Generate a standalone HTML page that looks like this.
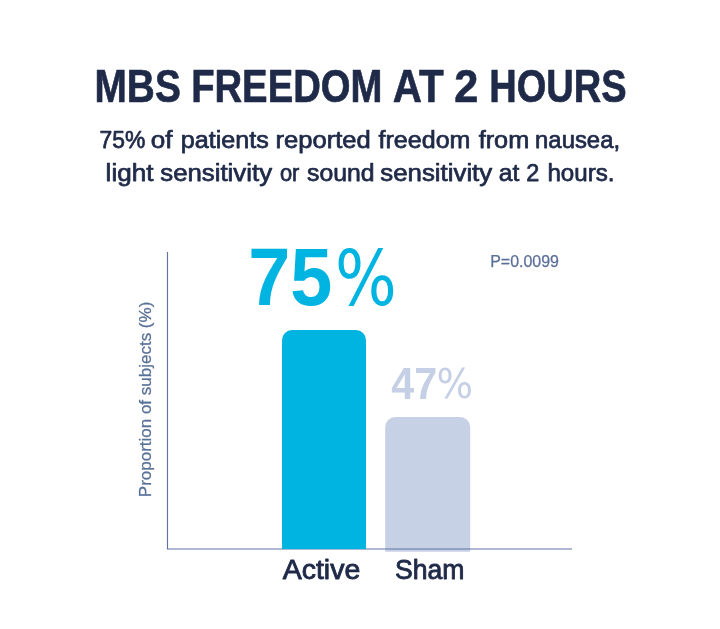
<!DOCTYPE html>
<html lang="en">
<head>
<meta charset="utf-8">
<title>MBS Freedom at 2 Hours</title>
<style>
  html, body { margin: 0; padding: 0; background: #ffffff; }
  body { width: 720px; height: 629px; overflow: hidden; font-family: "Liberation Sans", sans-serif; }
  main, figure { display: block; margin: 0; padding: 0; width: 720px; height: 629px; }
  svg { display: block; }
  text { font-family: "Liberation Sans", sans-serif; }
  .pct { font-family: "DejaVu Sans", "Liberation Sans", sans-serif; }
</style>
</head>
<body>
<main>
<figure>
<svg width="720" height="629" viewBox="0 0 720 629" role="img" aria-label="MBS freedom at 2 hours bar chart">
  <rect width="720" height="629" fill="#ffffff"/>

  <!-- y axis label -->
  <text fill="#587098" stroke="#587098" stroke-width="0.25" transform="translate(151 497.2) rotate(-90)" font-size="16.5" textLength="195.5" lengthAdjust="spacingAndGlyphs">Proportion of subjects (%)</text>

  <!-- sham bar (translucent, sits under the axis) -->
  <path fill="#9fb0d3" fill-opacity="0.58" d="M385.2 551.8 V427 a10 10 0 0 1 10 -10 H460.2 a10 10 0 0 1 10 10 V551.8 Z"/>

  <!-- axes -->
  <path d="M167.5 252 V549 H572" fill="none" stroke="#5f74a4" stroke-width="1.15"/>

  <!-- active bar -->
  <path fill="#00b4e2" d="M282 549 V340 a10 10 0 0 1 10 -10 H356 a10 10 0 0 1 10 10 V549 Z"/>
  <!-- heading -->
  <text y="101.7" font-size="46.2" font-weight="700" fill="#1f2a48" stroke="#1f2a48" stroke-width="0.7" stroke-linejoin="round"><tspan x="94.56" textLength="86.22" lengthAdjust="spacingAndGlyphs">MBS</tspan> <tspan x="191.15" textLength="191.22" lengthAdjust="spacingAndGlyphs">FREEDOM</tspan> <tspan x="392.77" textLength="50.88" lengthAdjust="spacingAndGlyphs">AT</tspan> <tspan x="454.22" textLength="24.06" lengthAdjust="spacingAndGlyphs">2</tspan> <tspan x="489.23" textLength="137.28" lengthAdjust="spacingAndGlyphs">HOURS</tspan></text>

  <!-- subtitle line 1 -->
  <text y="148.3" font-size="24.7" font-weight="400" fill="#1f2a48" stroke="#1f2a48" stroke-width="0.75" stroke-linejoin="round"><tspan x="99.45" textLength="45.81" lengthAdjust="spacingAndGlyphs">75%</tspan> <tspan x="150.89" textLength="21.73" lengthAdjust="spacingAndGlyphs">of</tspan> <tspan x="180.82" textLength="88.07" lengthAdjust="spacingAndGlyphs">patients</tspan> <tspan x="275.41" textLength="95.32" lengthAdjust="spacingAndGlyphs">reported</tspan> <tspan x="378.59" textLength="91.83" lengthAdjust="spacingAndGlyphs">freedom</tspan> <tspan x="478.67" textLength="50.60" lengthAdjust="spacingAndGlyphs">from</tspan> <tspan x="535.10" textLength="84.98" lengthAdjust="spacingAndGlyphs">nausea,</tspan></text>

  <!-- subtitle line 2 -->
  <text y="180.6" font-size="24.7" font-weight="400" fill="#1f2a48" stroke="#1f2a48" stroke-width="0.75" stroke-linejoin="round"><tspan x="105.61" textLength="47.85" lengthAdjust="spacingAndGlyphs">light</tspan> <tspan x="160.28" textLength="111.76" lengthAdjust="spacingAndGlyphs">sensitivity</tspan> <tspan x="279.93" textLength="19.47" lengthAdjust="spacingAndGlyphs">or</tspan> <tspan x="307.08" textLength="67.55" lengthAdjust="spacingAndGlyphs">sound</tspan> <tspan x="380.28" textLength="111.95" lengthAdjust="spacingAndGlyphs">sensitivity</tspan> <tspan x="498.85" textLength="20.50" lengthAdjust="spacingAndGlyphs">at</tspan> <tspan x="526.14" textLength="13.06" lengthAdjust="spacingAndGlyphs">2</tspan> <tspan x="547.38" textLength="67.15" lengthAdjust="spacingAndGlyphs">hours.</tspan></text>

  <!-- bar values -->
  <text fill="#00b4e2"><tspan x="248.30" y="305" font-size="81" font-weight="700" textLength="84.10" lengthAdjust="spacingAndGlyphs">75</tspan><tspan x="334.97" y="305" font-size="76" font-weight="400" class="pct" textLength="61.78" lengthAdjust="spacingAndGlyphs">%</tspan></text>
  <text fill="#c5d0e6"><tspan x="391.35" y="398.6" font-size="45" font-weight="700" textLength="45.97" lengthAdjust="spacingAndGlyphs">47</tspan><tspan x="436.58" y="398.0" font-size="41.5" font-weight="400" class="pct" textLength="36.58" lengthAdjust="spacingAndGlyphs">%</tspan></text>

  <!-- p value -->
  <text y="266.6" font-size="16" fill="#5b7099" stroke="#5b7099" stroke-width="0.25" stroke-linejoin="round"><tspan x="490.23" textLength="68.76" lengthAdjust="spacingAndGlyphs">P=0.0099</tspan></text>

  <!-- category labels -->
  <text y="579.3" font-size="28.2" fill="#1f2a48" stroke="#1f2a48" stroke-width="0.9" stroke-linejoin="round"><tspan x="282.77" textLength="77.48" lengthAdjust="spacingAndGlyphs">Active</tspan></text>
  <text y="579.3" font-size="28.2" fill="#1f2a48" stroke="#1f2a48" stroke-width="0.9" stroke-linejoin="round"><tspan x="394.95" textLength="69.47" lengthAdjust="spacingAndGlyphs">Sham</tspan></text>
</svg>
</figure>
</main>
</body>
</html>
